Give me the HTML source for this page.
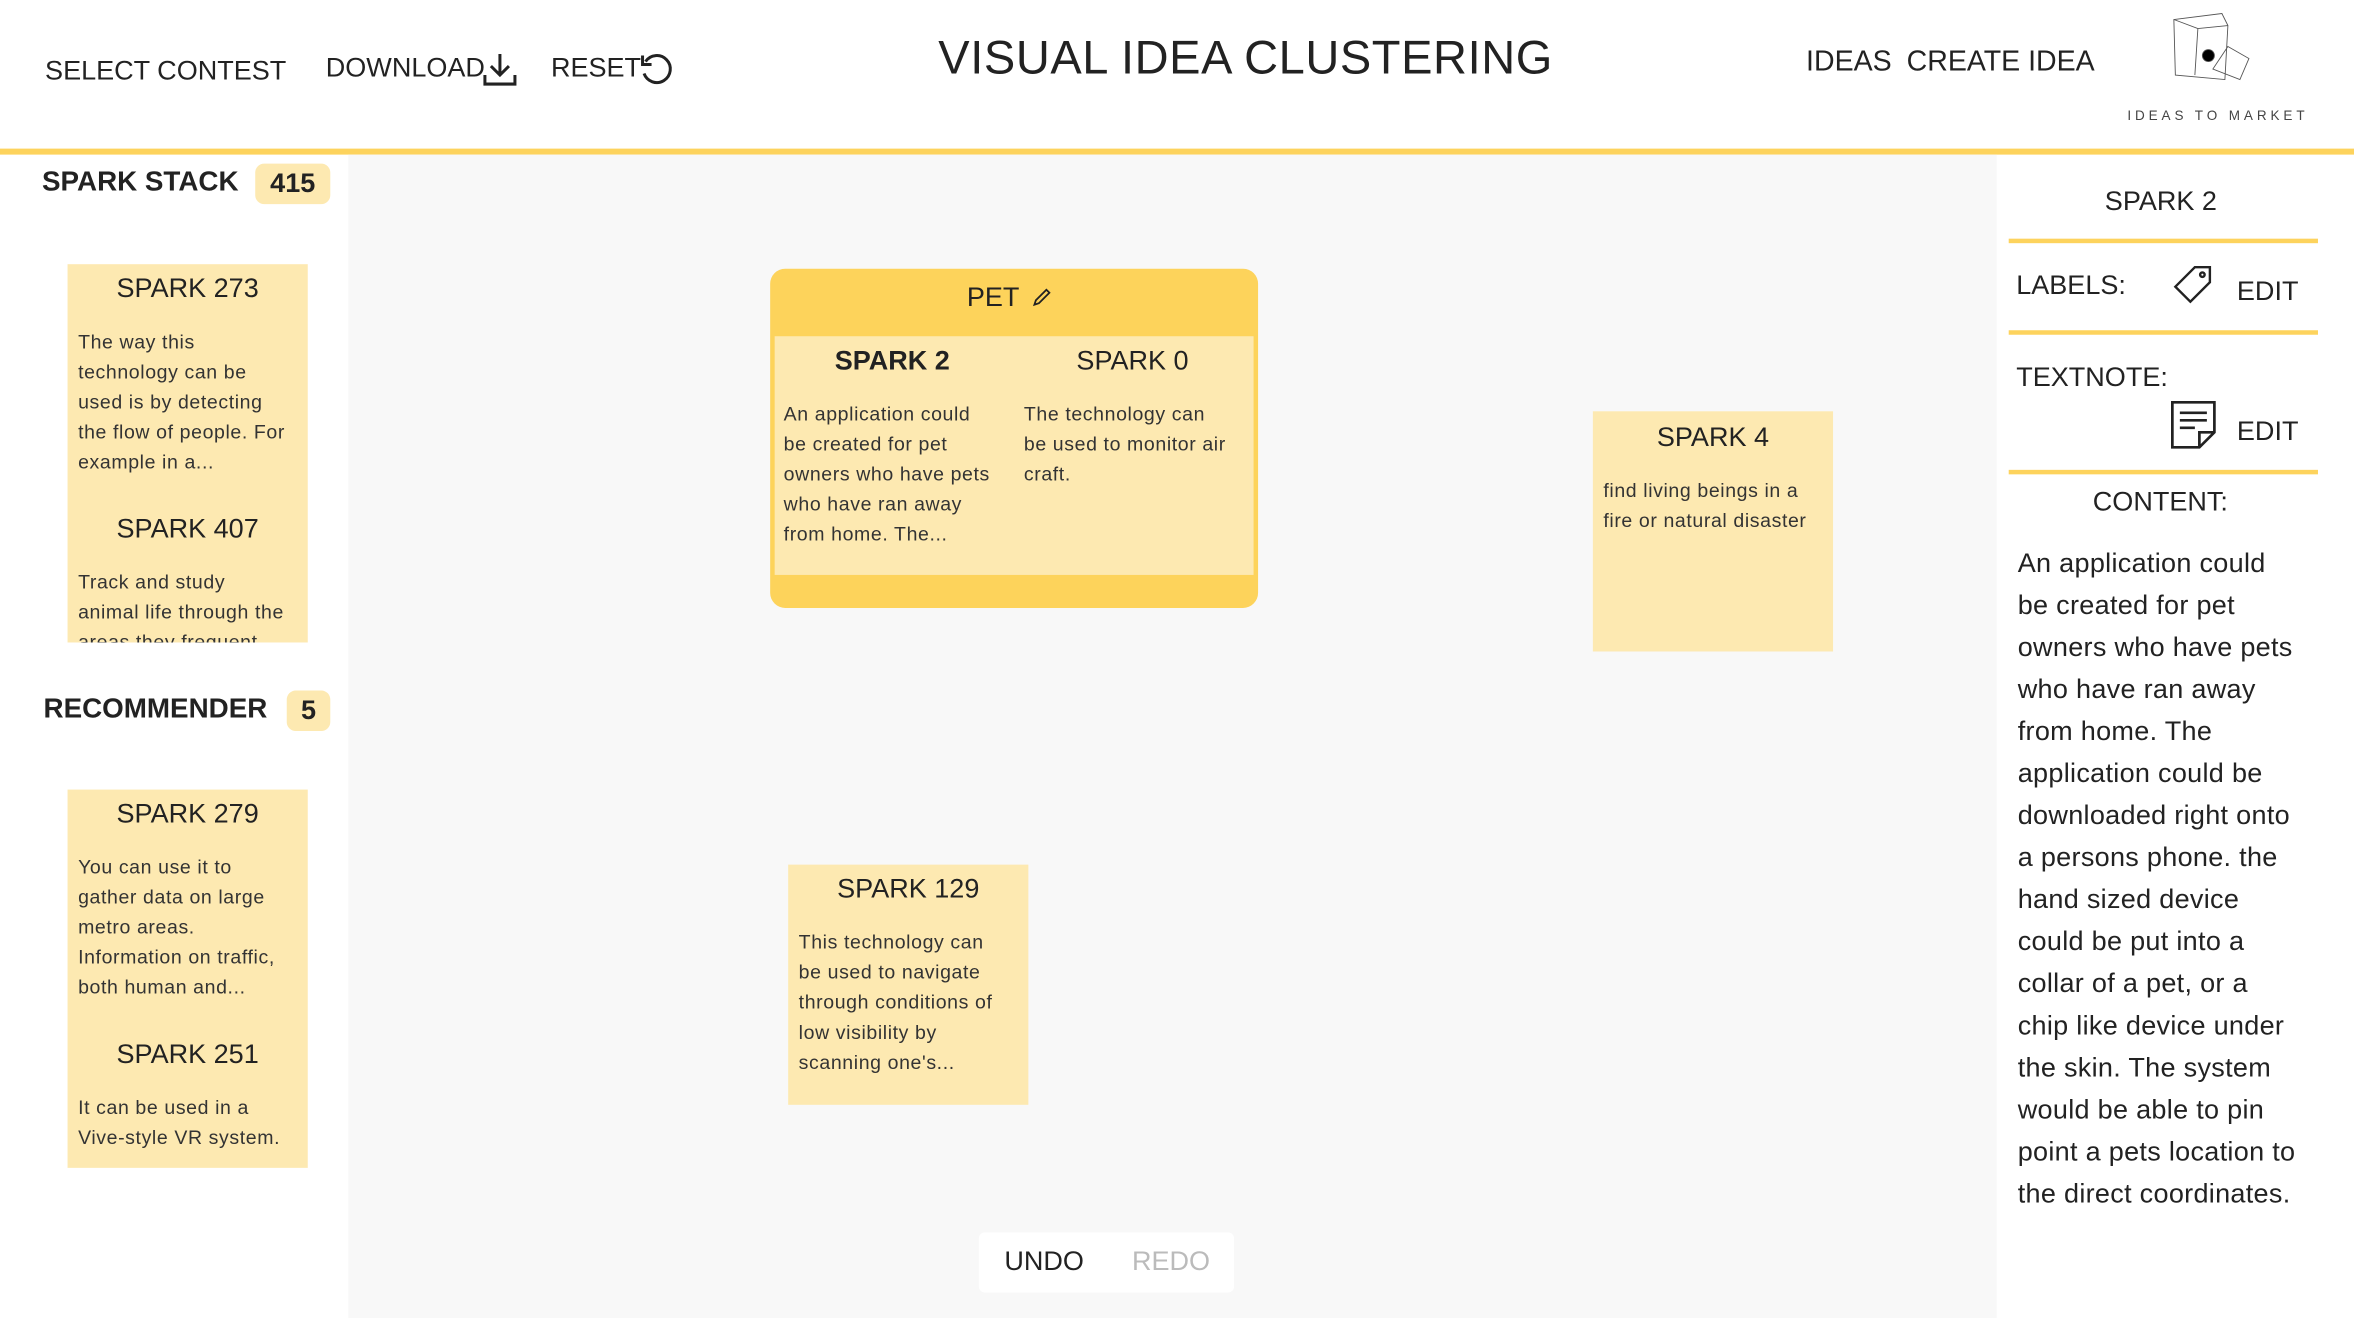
<!DOCTYPE html>
<html><head><meta charset="utf-8"><style>
html,body{margin:0;padding:0;width:2354px;height:1318px;overflow:hidden;background:#fff;}
#s{position:absolute;left:0;top:0;width:1568px;height:878px;transform:scale(1.50128,1.5011);transform-origin:0 0;font-family:"Liberation Sans",sans-serif;color:#222;}
.a{position:absolute;white-space:nowrap;}
.card{position:absolute;background:#fde9b1;width:160px;}
.card h3{margin:0;font-weight:normal;font-size:18px;text-align:center;}
.t{position:absolute;font-size:13px;line-height:20px;letter-spacing:.4px;color:#333;white-space:nowrap;}
.badge{position:absolute;background:#fde9b1;border-radius:6px;font-weight:bold;font-size:18px;text-align:center;}
</style></head><body><div id="s">
<div class="a" style="left:0;top:0;width:1568px;height:99px;background:#fff"></div>
<div class="a" style="left:0;top:99px;width:1568px;height:4px;background:#fdd35d"></div>
<div class="a" style="left:232px;top:103px;width:1098px;height:775px;background:#f8f8f8"></div>
<div class="a" style="left:30px;top:37px;font-size:18px">SELECT CONTEST</div>
<div class="a" style="left:217px;top:35px;font-size:18px">DOWNLOAD</div>
<svg class="a" style="left:320px;top:33px" width="26" height="26" viewBox="0 0 26 26" fill="none" stroke="#222" stroke-width="2"><path d="M13 3v14M7 11l6 6 6-6M3 17v6h20v-6"/></svg>
<div class="a" style="left:367px;top:35px;font-size:18px">RESET</div>
<svg class="a" style="left:424px;top:33px" width="26" height="26" viewBox="0 0 26 26" fill="none" stroke="#222" stroke-width="2"><path d="M6 8a9 9 0 1 1-1 8"/><path d="M4 4v6h6"/></svg>
<div class="a" style="left:625px;top:21px;font-size:31.3px;letter-spacing:.4px">VISUAL IDEA CLUSTERING</div>
<div class="a" style="left:1203px;top:31px;font-size:19px">IDEAS</div>
<div class="a" style="left:1270px;top:31px;font-size:19px">CREATE IDEA</div>
<svg class="a" style="left:1440px;top:8px" width="70" height="55" viewBox="0 0 70 55" fill="none" stroke="#555" stroke-width=".6"><path d="M8 5l32-4 4 8-2 36-33-3zM8 5l16 6 20-2M24 11l-2 31M44 23l14 8-6 14-18-7z"/><circle cx="31" cy="29" r="4" fill="#000"/></svg>
<div class="a" style="left:1417px;top:72px;font-size:9px;letter-spacing:2.6px;color:#444">IDEAS TO MARKET</div>

<div class="a" style="left:28px;top:110px;font-size:18.5px;font-weight:bold">SPARK STACK</div>
<div class="badge" style="left:170px;top:109px;width:50px;height:27px;line-height:27px">415</div>
<div class="card" style="left:45px;top:176px;height:252px;overflow:hidden">
<h3 style="margin-top:6px">SPARK 273</h3>
<div class="t" style="left:7px;top:42px">The way this<br>technology can be<br>used is by detecting<br>the flow of people. For<br>example in a...</div>
<h3 style="position:absolute;top:166px;width:160px">SPARK 407</h3>
<div class="t" style="left:7px;top:202px">Track and study<br>animal life through the<br>areas they frequent</div>
</div>
<div class="a" style="left:29px;top:461px;font-size:18.5px;font-weight:bold">RECOMMENDER</div>
<div class="badge" style="left:191px;top:460px;width:29px;height:27px;line-height:27px">5</div>
<div class="card" style="left:45px;top:526px;height:252px">
<h3 style="margin-top:6px">SPARK 279</h3>
<div class="t" style="left:7px;top:42px">You can use it to<br>gather data on large<br>metro areas.<br>Information on traffic,<br>both human and...</div>
<h3 style="position:absolute;top:166px;width:160px">SPARK 251</h3>
<div class="t" style="left:7px;top:202px">It can be used in a<br>Vive-style VR system.</div>
</div>

<div class="a" style="left:513px;top:179px;width:325px;height:226px;background:#fdd35b;border-radius:10px"></div>
<div class="a" style="left:516px;top:224px;width:319px;height:159px;background:#fde9b1"></div>
<div class="a" style="left:644px;top:188px;font-size:18px">PET</div>
<svg class="a" style="left:687px;top:191px" width="14" height="14" viewBox="0 0 14 14" fill="none" stroke="#222" stroke-width="1.2"><path d="M2 12l1-3 7-7 2 2-7 7z"/></svg>
<div class="a" style="left:556px;top:230px;font-size:18px;font-weight:bold">SPARK 2</div>
<div class="a" style="left:717px;top:230px;font-size:18px">SPARK 0</div>
<div class="t" style="left:522px;top:266px">An application could<br>be created for pet<br>owners who have pets<br>who have ran away<br>from home. The...</div>
<div class="t" style="left:682px;top:266px">The technology can<br>be used to monitor air<br>craft.</div>

<div class="card" style="left:1061px;top:274px;height:160px"><h3 style="margin-top:7px">SPARK 4</h3>
<div class="t" style="left:7px;top:43px">find living beings in a<br>fire or natural disaster</div></div>
<div class="card" style="left:525px;top:576px;height:160px"><h3 style="margin-top:6px">SPARK 129</h3>
<div class="t" style="left:7px;top:42px">This technology can<br>be used to navigate<br>through conditions of<br>low visibility by<br>scanning one's...</div></div>

<div class="a" style="left:652px;top:821px;width:170px;height:40px;background:#fff;border-radius:4px"></div>
<div class="a" style="left:669px;top:830px;font-size:18px">UNDO</div>
<div class="a" style="left:754px;top:830px;font-size:18px;color:#bbb">REDO</div>

<div class="a" style="left:1402px;top:124px;font-size:18px">SPARK 2</div>
<div class="a" style="left:1338px;top:159px;width:206px;height:3px;background:#fdd35d"></div>
<div class="a" style="left:1343px;top:180px;font-size:18px">LABELS:</div>
<svg class="a" style="left:1446px;top:175px" width="30" height="30" viewBox="0 0 30 30" fill="none" stroke="#222" stroke-width="1.6"><path d="M16 3h10v10L13 26 3 16z"/><circle cx="21" cy="8" r="1.5"/></svg>
<div class="a" style="left:1490px;top:184px;font-size:18px">EDIT</div>
<div class="a" style="left:1338px;top:220px;width:206px;height:3px;background:#fdd35d"></div>
<div class="a" style="left:1343px;top:241px;font-size:18px">TEXTNOTE:</div>
<svg class="a" style="left:1444px;top:266px" width="34" height="34" viewBox="0 0 34 34" fill="none" stroke="#222" stroke-width="1.8"><path d="M3 2h28v20l-10 10H3zM31 22h-10v10M8 9h18M8 14h18M8 19h10"/></svg>
<div class="a" style="left:1490px;top:277px;font-size:18px">EDIT</div>
<div class="a" style="left:1338px;top:313px;width:206px;height:3px;background:#fdd35d"></div>
<div class="a" style="left:1394px;top:324px;font-size:18px">CONTENT:</div>
<div class="t" style="left:1344px;top:361px;font-size:18px;line-height:28px;letter-spacing:.2px;color:#222">An application could<br>be created for pet<br>owners who have pets<br>who have ran away<br>from home. The<br>application could be<br>downloaded right onto<br>a persons phone. the<br>hand sized device<br>could be put into a<br>collar of a pet, or a<br>chip like device under<br>the skin. The system<br>would be able to pin<br>point a pets location to<br>the direct coordinates.</div>
</div></body></html>
